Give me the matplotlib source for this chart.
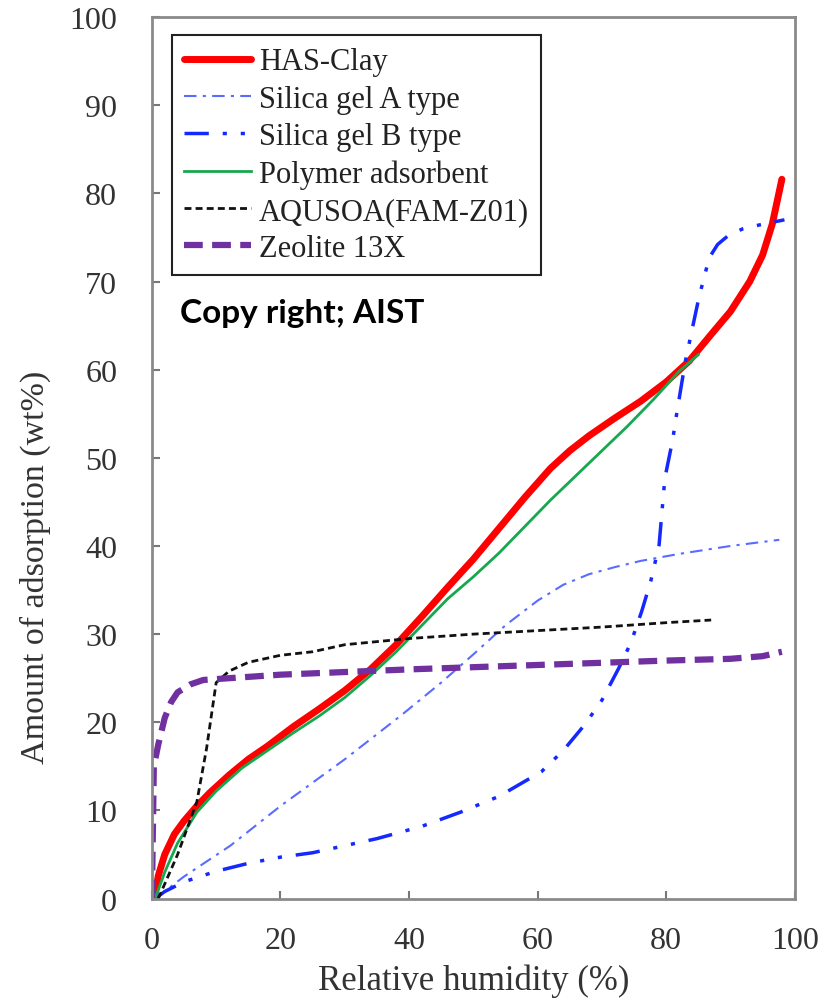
import matplotlib
matplotlib.use('Agg')
import matplotlib.pyplot as plt

plt.rcParams['font.family'] = ['Liberation Serif', 'DejaVu Serif']

# HAS-Clay
has_x = [0.5, 1, 2, 3.5, 5, 7, 9, 12, 15, 18, 22, 26, 30, 34, 38, 42, 46, 50, 54, 58, 62, 65, 68, 72,
         76, 80, 83.6, 87, 90, 93, 95, 96.5, 98]
has_y = [0.5, 2.6, 5, 7.3, 8.8, 10.5, 12, 14, 15.8, 17.3, 19.5, 21.5, 23.6, 26, 28.8, 32, 35.3, 38.5, 42,
         45.5, 48.8, 50.8, 52.5, 54.5, 56.4, 58.6, 61, 64, 66.6, 70, 73, 76.5, 81.6]

# Silica gel A type
sga_x = [0.5, 5, 12.2, 20, 30, 38.8, 45, 50, 55, 60, 64, 68, 72, 76, 82, 90, 97.6]
sga_y = [0, 2.5, 6, 10.5, 15.8, 20.8, 24.5, 27.7, 31, 33.8, 35.6, 36.8, 37.6, 38.3, 39.1, 40, 40.7]

# Silica gel B type
sgb_x = [0.5, 2, 5, 10, 15, 20, 25, 30, 35, 42, 48, 54, 60.6, 64, 67.3, 70, 72.6, 74.5, 76.2, 77.6,
         78.9, 79.8, 81, 81.7, 83, 85.1, 86.7, 88, 89.8, 92, 95, 98.4]
sgb_y = [0, 0.8, 1.9, 3.1, 4, 4.7, 5.2, 6, 6.8, 8.2, 9.8, 11.6, 14.4, 16.8, 19.7, 22.5, 26.1, 29, 32.6, 36,
         40.1, 47.7, 52, 55.3, 61, 68.2, 72.7, 74.2, 75.3, 76, 76.5, 77]

# Polymer adsorbent
pol_x = [0.5, 2, 4, 7, 10, 14, 18, 22, 26, 30, 34, 38, 42, 46, 50, 54, 58, 62, 66, 70, 74, 78, 82, 85]
pol_y = [0, 3, 6.3, 9.8, 12.2, 14.8, 16.8, 18.8, 20.7, 22.8, 25.3, 28, 31, 34, 36.5, 39.2, 42.2, 45.2,
         48, 50.8, 53.6, 56.6, 59.8, 61.7]

# AQUSOA(FAM-Z01)
aq_x = [1, 4, 7, 8.5, 10, 12, 15, 20, 25, 30, 40, 50, 60, 70, 80, 87]
aq_y = [0, 5, 11, 17, 24.5, 25.8, 26.8, 27.6, 28, 28.8, 29.5, 30, 30.4, 30.8, 31.3, 31.6]

# Zeolite 13X
zeo_x = [0, 0.3, 1, 2, 3, 4, 6, 8, 12, 20, 40, 60, 80, 90, 95, 98]
zeo_y = [0, 15, 17.5, 20.5, 22.3, 23.4, 24.3, 24.8, 25, 25.4, 26, 26.5, 27, 27.2, 27.5, 28]

fig = plt.figure(figsize=(8.21, 10.04), dpi=100)
ax = fig.add_axes([0.185, 0.104, 0.783, 0.878])

ax.plot(has_x, has_y, color='#ff0000', lw=5, label='HAS-Clay', solid_capstyle='round')
ax.plot(sga_x, sga_y, color='#5a6cff', lw=1.5, dashes=(6, 3, 1.5, 3), label='Silica gel A type')
ax.plot(sgb_x, sgb_y, color='#1428ff', lw=2.5, dashes=(7, 4, 1.2, 4, 1.2, 4), label='Silica gel B type')
ax.plot(pol_x, pol_y, color='#16a84e', lw=2, label='Polymer adsorbent')
ax.plot(aq_x, aq_y, color='#111111', lw=2, dashes=(2.5, 1.5), label='AQUSOA(FAM-Z01)')
ax.plot(zeo_x, zeo_y, color='#7030a0', lw=4.5, dashes=(3, 1.5), label='Zeolite 13X')

ax.set_xlim(0, 100)
ax.set_ylim(0, 100)
ax.set_xticks(range(0, 101, 20))
ax.set_yticks(range(0, 101, 10))
ax.tick_params(direction='in', length=6, width=1.5, color='#777777',
               labelsize=23, labelcolor='#333333')
ax.tick_params(axis='y', pad=25)
ax.tick_params(axis='x', pad=20)
for s in ax.spines.values():
    s.set_color('#8a8a8a')
    s.set_linewidth(2)

ax.set_xlabel('Relative humidity (%)', fontsize=25, color='#333333', labelpad=6)
ax.set_ylabel('Amount of adsorption (wt%)', fontsize=24.5, color='#333333')
ax.yaxis.set_label_coords(-0.157, 0.377)

leg = ax.legend(loc='upper left', bbox_to_anchor=(0.031, 0.9795), fontsize=22,
                handlelength=2.2, handletextpad=0.25, labelspacing=0.27,
                borderpad=0.4, borderaxespad=0, fancybox=False, framealpha=1)
leg.get_frame().set_edgecolor('#222222')
leg.get_frame().set_linewidth(1.5)
for t in leg.get_texts():
    t.set_color('#222222')

ax.text(0.0435, 0.665, 'Copy right; AIST', transform=ax.transAxes, fontsize=24, va='center',
        fontweight='bold', family=['Lato', 'DejaVu Sans'], color='black')

fig.savefig('out.png', dpi=100)
